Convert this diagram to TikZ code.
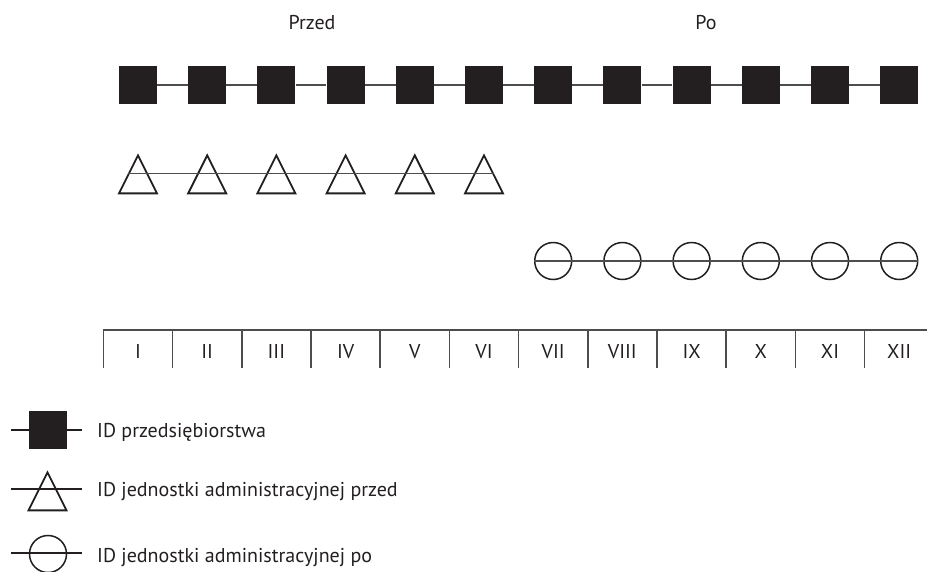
\documentclass[tikz,border=0pt]{standalone}
\usepackage{fontspec}
\setmainfont{PT Sans}
\usetikzlibrary{shapes.geometric}
\definecolor{ciemny}{HTML}{231F20}
\definecolor{szary}{HTML}{4D4D4D}
\tikzset{
  kwadrat/.style={rectangle, fill=ciemny, minimum size=38, inner sep=0},
  trojkat/.style={isosceles triangle, isosceles triangle stretches, shape border rotate=90,
    minimum width=38, minimum height=38, inner sep=0, draw=ciemny, line width=1.8pt, anchor=apex},
  kolo/.style={circle, minimum size=37, inner sep=0, draw=ciemny, line width=1.5pt},
  linia/.style={szary, line width=1.3pt},
  opis/.style={text=ciemny, font=\fontsize{20}{24}\selectfont, inner sep=0}
}
\begin{document}
\begin{tikzpicture}[x=1pt, y=-1pt] %1 jednostka = 1 piksel
\useasboundingbox (0,0) rectangle (927,571);
	%Naglowki
\node[opis, anchor=base] (przed) at (312,29) {Przed};
\node[opis, anchor=base] (po) at (706,29) {Po};
	%Przedsiebiorstwo
\node[kwadrat] (s1) at (138,85) {};
\node[kwadrat] (s2) at (207.2,85) {};
\node[kwadrat] (s3) at (276.4,85) {};
\node[kwadrat] (s4) at (345.6,85) {};
\node[kwadrat] (s5) at (414.8,85) {};
\node[kwadrat] (s6) at (484,85) {};
\node[kwadrat] (s7) at (553.2,85) {};
\node[kwadrat] (s8) at (622.4,85) {};
\node[kwadrat] (s9) at (691.6,85) {};
\node[kwadrat] (s10) at (760.8,85) {};
\node[kwadrat] (s11) at (830,85) {};
\node[kwadrat] (s12) at (899.2,85) {};
\draw[linia] (s1) -- (s2);
\draw[linia] (s2) -- (s3);
\draw[linia] (s3) -- (s4);
\draw[linia] (s4) -- (s5);
\draw[linia] (s5) -- (s6);
\draw[linia] (s6) -- (s7);
\draw[linia] (s7) -- (s8);
\draw[linia] (s8) -- (s9);
\draw[linia] (s9) -- (s10);
\draw[linia] (s10) -- (s11);
\draw[linia] (s11) -- (s12);
	%Jednostka przed (wierzcholek u gory)
\node[trojkat] (t1) at (138,153) {};
\node[trojkat] (t2) at (207.2,153) {};
\node[trojkat] (t3) at (276.4,153) {};
\node[trojkat] (t4) at (345.6,153) {};
\node[trojkat] (t5) at (414.8,153) {};
\node[trojkat] (t6) at (484,153) {};
\draw[linia] (t1.left side) -- (t6.right side);
	%Jednostka po
\node[kolo] (c7) at (553.2,261) {};
\node[kolo] (c8) at (622.4,261) {};
\node[kolo] (c9) at (691.6,261) {};
\node[kolo] (c10) at (760.8,261) {};
\node[kolo] (c11) at (830,261) {};
\node[kolo] (c12) at (899.2,261) {};
\draw[linia] (c7.west) -- (c12.east);
	%Os miesiecy
\draw[szary, line width=1.5pt] (103.4,368) -- (103.4,330) -- (927,330);
\draw[szary, line width=1.5pt] (172.6,330) -- (172.6,368);
\draw[szary, line width=1.5pt] (241.8,330) -- (241.8,368);
\draw[szary, line width=1.5pt] (311,330) -- (311,368);
\draw[szary, line width=1.5pt] (380.2,330) -- (380.2,368);
\draw[szary, line width=1.5pt] (449.4,330) -- (449.4,368);
\draw[szary, line width=1.5pt] (518.6,330) -- (518.6,368);
\draw[szary, line width=1.5pt] (587.8,330) -- (587.8,368);
\draw[szary, line width=1.5pt] (657,330) -- (657,368);
\draw[szary, line width=1.5pt] (726.2,330) -- (726.2,368);
\draw[szary, line width=1.5pt] (795.4,330) -- (795.4,368);
\draw[szary, line width=1.5pt] (864.6,330) -- (864.6,368);
\node[opis, anchor=base] (m1) at (138,358) {I};
\node[opis, anchor=base] (m2) at (207.2,358) {II};
\node[opis, anchor=base] (m3) at (276.4,358) {III};
\node[opis, anchor=base] (m4) at (345.6,358) {IV};
\node[opis, anchor=base] (m5) at (414.8,358) {V};
\node[opis, anchor=base] (m6) at (484,358) {VI};
\node[opis, anchor=base] (m7) at (553.2,358) {VII};
\node[opis, anchor=base] (m8) at (622.4,358) {VIII};
\node[opis, anchor=base] (m9) at (691.6,358) {IX};
\node[opis, anchor=base] (m10) at (760.8,358) {X};
\node[opis, anchor=base] (m11) at (830,358) {XI};
\node[opis, anchor=base] (m12) at (899.2,358) {XII};
	%Legenda
\coordinate (la1) at (11,430);
\coordinate (la2) at (82,430);
\draw[linia, ciemny] (la1) -- (la2);
\node[kwadrat] (ls) at (48,430) {};
\node[opis, anchor=base west] (ts) at (97,437) {ID przedsiębiorstwa};
\coordinate (lb1) at (11,489);
\coordinate (lb2) at (82,489);
\draw[linia, ciemny] (lb1) -- (lb2);
\node[trojkat] (lt) at (47.5,470) {};
\node[opis, anchor=base west] (tt) at (97,496) {ID jednostki administracyjnej przed};
\coordinate (lc1) at (11,553);
\coordinate (lc2) at (82,553);
\draw[linia, ciemny] (lc1) -- (lc2);
\node[kolo] (lc) at (48,554) {};
\node[opis, anchor=base west] (tc) at (97,562) {ID jednostki administracyjnej po};
\end{tikzpicture}
\end{document}
